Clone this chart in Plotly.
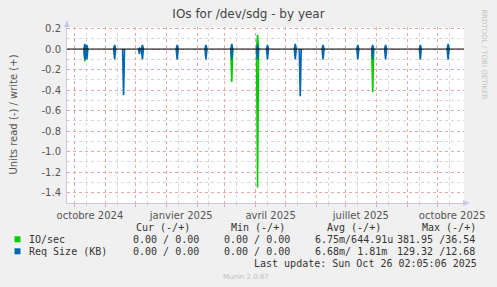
import pandas as pd
import plotly.graph_objects as go

# ---------------- data ----------------
spike_dates = ["2024-10-11", "2024-10-13", "2024-11-10", "2024-11-19", "2024-12-05",
               "2024-12-08", "2025-01-12", "2025-02-10", "2025-03-08", "2025-04-03",
               "2025-04-13", "2025-05-11", "2025-05-16", "2025-06-08", "2025-07-13",
               "2025-07-28", "2025-08-10", "2025-09-14", "2025-10-12"]
io_read   = [0.12, 0.03, 0.02, 0.00, 0.00, 0.02, 0.02, 0.02, 0.32, 1.35,
             0.02, 0.02, 0.00, 0.02, 0.02, 0.42, 0.02, 0.02, 0.02]
io_write  = [0.02, 0.01, 0.01, 0.00, 0.00, 0.01, 0.01, 0.01, 0.02, 0.14,
             0.01, 0.01, 0.00, 0.01, 0.01, 0.02, 0.01, 0.02, 0.01]
req_read  = [0.10, 0.10, 0.10, 0.45, 0.05, 0.10, 0.10, 0.10, 0.10, 0.10,
             0.10, 0.10, 0.46, 0.10, 0.10, 0.10, 0.10, 0.10, 0.10]
req_write = [0.05, 0.04, 0.04, 0.00, 0.01, 0.04, 0.04, 0.04, 0.05, 0.04,
             0.04, 0.05, 0.00, 0.04, 0.04, 0.04, 0.04, 0.04, 0.05]

start_date, end_date = "2024-09-23", "2025-10-28"

month_ticks = ["2024-10-01", "2024-11-01", "2024-12-01", "2025-01-01", "2025-02-01",
               "2025-03-01", "2025-04-01", "2025-05-01", "2025-06-01", "2025-07-01",
               "2025-08-01", "2025-09-01", "2025-10-01"]
month_labels = ["octobre 2024", "", "", "janvier 2025", "", "", "avril 2025", "", "",
                "juillet 2025", "", "", "octobre 2025"]

y_tickvals = [0.2, 0.0, -0.2, -0.4, -0.6, -0.8, -1.0, -1.2, -1.4]
y_ticktext = ["0.2", "0.0", "-0.2", "-0.4", "-0.6", "-0.8", "-1.0", "-1.2", "-1.4"]

series_names = ["IO/sec", "Req Size (KB)"]
legend_cur = ["0.00 / 0.00", "0.00 / 0.00"]
legend_min = ["0.00 / 0.00", "0.00 / 0.00"]
legend_avg = ["6.75m/644.91u", "6.68m/ 1.81m"]
legend_max = ["381.95 /36.54", "129.32 /12.68"]
last_update = "Last update: Sun Oct 26 02:05:06 2025"

GREEN = "#00cc00"
BLUE = "#0066b3"

# ---------------- series ----------------
one_day = pd.Timedelta(days=1)


def build(vals, sign):
    xs, ys = [], []
    for d, v in zip(pd.to_datetime(spike_dates), vals):
        if v == 0:
            continue
        xs += [d - one_day, d, d + one_day, None]
        ys += [0.0, sign * v, 0.0, None]
    return xs, ys


fig = go.Figure()
for vals, sign, color in [(io_read, -1, GREEN), (io_write, 1, GREEN),
                          (req_read, -1, BLUE), (req_write, 1, BLUE)]:
    xs, ys = build(vals, sign)
    fig.add_trace(go.Scatter(x=xs, y=ys, mode="lines", connectgaps=False,
                             line=dict(color=color, width=1.6), showlegend=False,
                             hoverinfo="skip"))

# ---------------- layout ----------------
W, H = 497, 287
L, R, T, B = 67, 468, 27, 203
PW, PH = R - L, B - T


def px(x):
    return (x - L) / PW


def py(y):
    return (B - y) / PH


MGRID = "#e8a8a8"
GRID = "#d6d6d6"
AXIS = "#c8c8ee"
TXT = "#555555"

fig.update_layout(
    width=W, height=H,
    margin=dict(l=L, r=W - R, t=T, b=H - B),
    paper_bgcolor="#f0f0f0", plot_bgcolor="#ffffff",
    font=dict(family="DejaVu Sans", size=10, color=TXT),
    title=dict(text="IOs for /dev/sdg - by year", x=0.5, xanchor="center",
               xref="container", yref="container", y=1 - 14 / H, yanchor="middle",
               font=dict(size=12, color="#444444")),
)
fig.update_xaxes(
    type="date", range=[start_date, end_date],
    tickvals=month_ticks, ticktext=month_labels, ticklabelshift=15,
    tickangle=0,
    showgrid=True, gridcolor=MGRID, griddash="dot", gridwidth=1,
    ticks="outside", ticklen=3, tickcolor=MGRID,
    minor=dict(dtick="M1", tick0="2024-09-13", showgrid=True, gridcolor=GRID,
               griddash="dot", ticks="outside", ticklen=2, tickcolor=GRID),
    showline=True, linecolor=AXIS, linewidth=1,
    zeroline=False, tickfont=dict(size=10, color=TXT),
)
fig.update_yaxes(
    range=[-1.5, 0.215],
    tickvals=y_tickvals, ticktext=y_ticktext,
    showgrid=True, gridcolor=MGRID, griddash="dot", gridwidth=1,
    minor=dict(dtick=0.1, tick0=0, showgrid=True, gridcolor=GRID, griddash="dot"),
    ticks="outside", ticklen=3, tickcolor="rgba(0,0,0,0)",
    showline=True, linecolor=AXIS, linewidth=1,
    zeroline=False, tickfont=dict(size=10, color=TXT),
)

shapes = []
# zero line on top
shapes.append(dict(type="line", xref="paper", yref="y", x0=0, x1=1, y0=0, y1=0,
                   line=dict(color="#000000", width=1), layer="above"))
# axis arrows
shapes.append(dict(type="path", xref="paper", yref="paper",
                   path=f"M {px(64)},{py(27)} L {px(70)},{py(27)} L {px(67)},{py(20)} Z",
                   fillcolor=AXIS, line=dict(width=0)))
shapes.append(dict(type="path", xref="paper", yref="paper",
                   path=f"M {px(467)},{py(200)} L {px(467)},{py(206)} L {px(474)},{py(203)} Z",
                   fillcolor=AXIS, line=dict(width=0)))
# legend squares
for yc, col in [(239.3, GREEN), (251.3, BLUE)]:
    shapes.append(dict(type="rect", xref="paper", yref="paper",
                       x0=px(14), x1=px(20), y0=py(yc + 3), y1=py(yc - 3),
                       fillcolor=col, line=dict(width=0)))
fig.update_layout(shapes=shapes)

MONO = dict(family="DejaVu Sans Mono", size=10, color="#333333")
ann = []


def text(x, y, s, font=MONO, xanchor="left", angle=0):
    ann.append(dict(x=px(x), y=py(y), xref="paper", yref="paper", text=s,
                    showarrow=False, xanchor=xanchor, yanchor="middle",
                    font=font, textangle=angle))


# y axis title
ann.append(dict(x=px(12), y=0.5, xref="paper", yref="paper",
                text="Units read (-) / write (+)", showarrow=False,
                xanchor="center", yanchor="middle", textangle=-90,
                font=dict(family="DejaVu Sans", size=10, color=TXT)))
# rrdtool credit
text(488, 54, "RRDTOOL / TOBI OETIKER", font=dict(family="DejaVu Sans", size=7, color="#c4c4c4"),
     xanchor="center", angle=90)
# legend headers
for x0, h in [(134.3, "Cur (-/+)"), (231, "Min (-/+)"), (327.3, "Avg (-/+)"), (423.3, "Max (-/+)")]:
    text(x0, 227.7, h)
for i, yc in enumerate([239.3, 251.3]):
    text(26.7, yc, series_names[i])
    text(131.3, yc, legend_cur[i])
    text(224, yc, legend_min[i])
    text(315.5, yc, legend_avg[i])
    text(398.8, yc, legend_max[i])
text(482.7, 263.7, last_update, xanchor="right")
text(247.5, 276.5, "Munin 2.0.67", font=dict(family="DejaVu Sans", size=7, color="#c0c0c0"),
     xanchor="center")
fig.update_layout(annotations=ann)

fig.write_html("out.html")
